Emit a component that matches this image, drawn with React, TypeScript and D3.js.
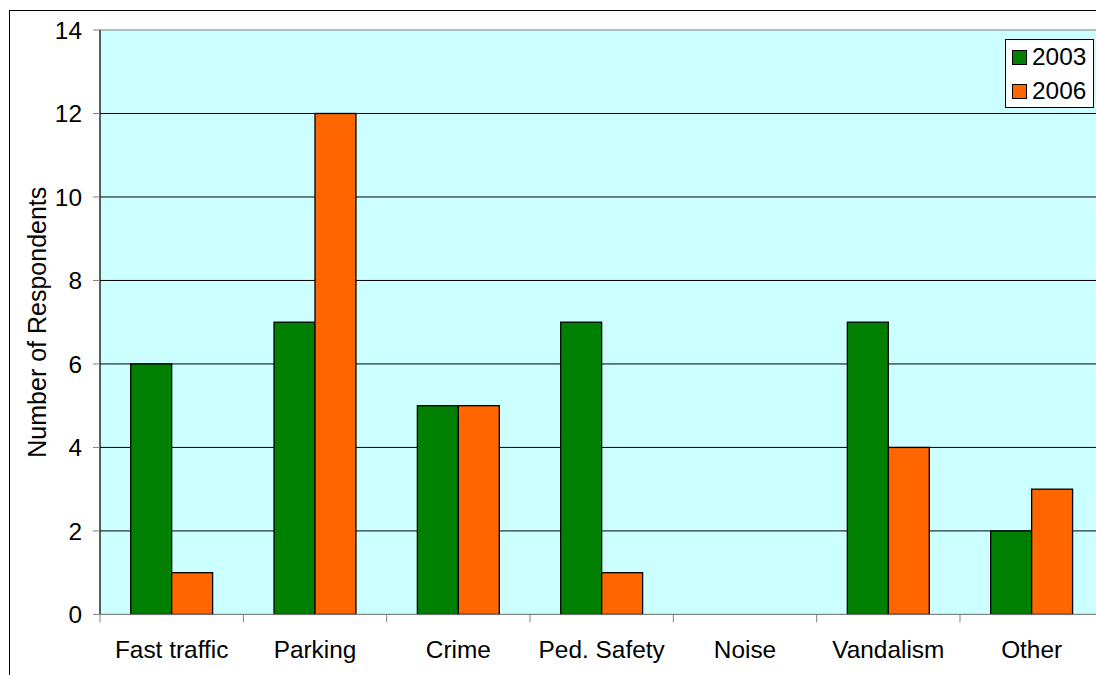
import React from "react";
import * as d3 from "d3";

const categories = ["Fast traffic", "Parking", "Crime", "Ped. Safety", "Noise", "Vandalism", "Other"];
const seriesNames = ["2003", "2006"];
const values2003 = [6, 7, 5, 7, 0, 7, 2];
const values2006 = [1, 12, 5, 1, 0, 4, 3];
const yTicks = [0, 2, 4, 6, 8, 10, 12, 14];
const colors = ["#008000", "#FF6600"];

const W = 1096;
const H = 675;
const plotLeft = 100;
const plotRight = 1103.3;
const plotTop = 30;
const plotBottom = 614.4;
const FONT = "'Liberation Sans', Arial, sans-serif";
const FS = 24.4;

export default function App() {
  const x = d3.scaleBand<string>().domain(categories).range([plotLeft, plotRight]).paddingInner(0).paddingOuter(0);
  const x1 = d3.scaleBand<string>().domain(seriesNames).range([0, x.bandwidth()]).paddingInner(0).paddingOuter(0.75);
  const y = d3.scaleLinear().domain([0, 14]).range([plotBottom, plotTop]);
  const data = [values2003, values2006];
  const tickXs = d3.range(categories.length + 1).map((i) => plotLeft + i * x.step());

  return (
    <svg width={W} height={H} style={{ position: "absolute", left: 0, top: 0, background: "#fff" }} fontFamily={FONT}>
      <rect x={9.5} y={10.5} width={1200} height={800} fill="#fff" stroke="#000" strokeWidth={1} />
      <rect x={plotLeft} y={plotTop} width={plotRight - plotLeft} height={plotBottom - plotTop} fill="#CCFFFF" stroke="#808080" strokeWidth={1} />
      {yTicks.filter((t) => t > 0 && t < 14).map((t) => (
        <line key={"g" + t} x1={plotLeft} x2={plotRight} y1={y(t)} y2={y(t)} stroke="#000" strokeWidth={1} />
      ))}
      {data.map((vals, si) =>
        categories.map((c, ci) => {
          const v = vals[ci];
          if (v <= 0) return null;
          const bx = (x(c) as number) + (x1(seriesNames[si]) as number);
          return (
            <rect key={si + "-" + ci} x={bx} y={y(v)} width={x1.bandwidth()} height={y(0) - y(v)} fill={colors[si]} stroke="#000" strokeWidth={1.3} />
          );
        })
      )}
      <line x1={plotLeft} x2={plotLeft} y1={plotTop} y2={plotBottom} stroke="#000" strokeWidth={1} />
      <line x1={plotLeft} x2={plotRight} y1={plotBottom} y2={plotBottom} stroke="#808080" strokeWidth={1} />
      {yTicks.map((t) => (
        <g key={"t" + t}>
          <line x1={plotLeft - 7} x2={plotLeft} y1={y(t)} y2={y(t)} stroke="#808080" strokeWidth={1} />
          <text x={82} y={y(t)} dy="0.36em" textAnchor="end" fontSize={FS} fill="#000">{t}</text>
        </g>
      ))}
      {tickXs.map((tx, i) => (
        <line key={"xt" + i} x1={tx} x2={tx} y1={plotBottom} y2={plotBottom + 8} stroke="#808080" strokeWidth={1} />
      ))}
      {categories.map((c) => (
        <text key={c} x={(x(c) as number) + x.bandwidth() / 2} y={658} textAnchor="middle" fontSize={FS} fill="#000">{c}</text>
      ))}
      <text transform={`translate(46,${(plotTop + plotBottom) / 2}) rotate(-90)`} textAnchor="middle" fontSize={25} fill="#000">Number of Respondents</text>
      <rect x={1005.5} y={39.5} width={88} height={68} fill="#fff" stroke="#000" strokeWidth={1} />
      {seriesNames.map((s, i) => (
        <g key={s}>
          <rect x={1012.5} y={50.5 + i * 34} width={14} height={14} fill={colors[i]} stroke="#000" strokeWidth={1} />
          <text x={1032} y={65 + i * 34} fontSize={FS} fill="#000">{s}</text>
        </g>
      ))}
    </svg>
  );
}
